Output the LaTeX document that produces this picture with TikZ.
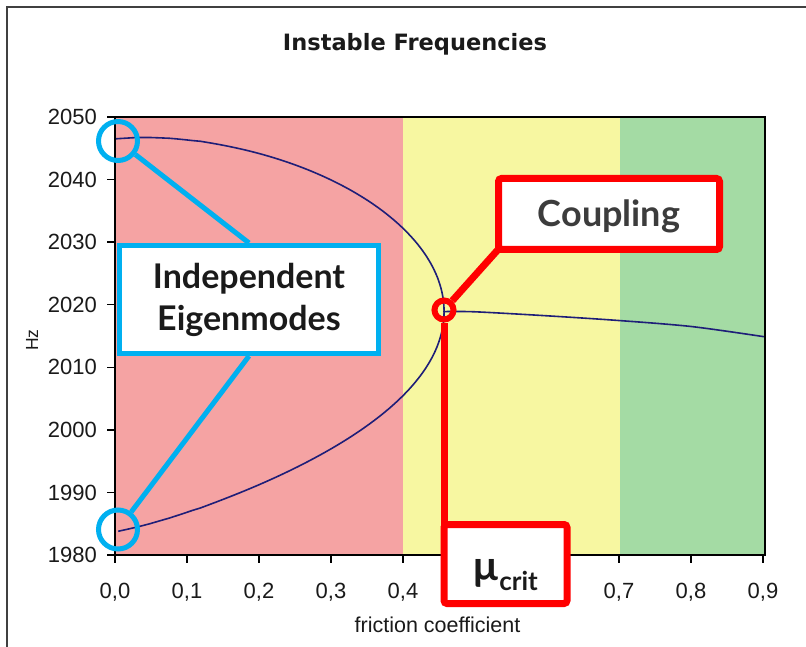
\documentclass[tikz,border=0pt]{standalone}
\usepackage{fontspec}
\setmainfont{Liberation Sans}
\newfontfamily\titlefont{DejaVu Sans}
\newfontfamily\callfont{Lato}
\definecolor{zred}{HTML}{F5A3A3}
\definecolor{zyellow}{HTML}{F7F7A1}
\definecolor{zgreen}{HTML}{A4DBA4}
\definecolor{cnavy}{HTML}{1E1E78}
\definecolor{cblue}{HTML}{00B0F0}
\definecolor{ctext}{HTML}{1A1A1A}
\definecolor{cgray}{HTML}{3C3C3C}
\begin{document}
\begin{tikzpicture}[x=1pt,y=-1pt,
  declare function={mm(\h)=max(1-\h*\h,0.0001)^(2/3);
                    cc(\h)=35.1+3.8*(1-(1-mm(\h))^2);},
  curve/.style={draw=cnavy,line width=1.6pt,line join=round},
  axisline/.style={draw=black,line width=1.3pt},
  tickmark/.style={draw=black,line width=1.3pt},
  ticklab/.style={font=\fontsize{22}{22}\selectfont,text=ctext,inner sep=0pt},
  bluering/.style={circle,draw=cblue,line width=5pt,minimum size=39pt,inner sep=0pt},
  bluebox/.style={rectangle,draw=cblue,line width=5pt,fill=white,inner sep=0pt,
    align=center,text=ctext,font=\callfont\bfseries\fontsize{34}{42}\selectfont},
  blueline/.style={draw=cblue,line width=5pt},
  redring/.style={circle,draw=red,line width=6pt,minimum size=19pt,inner sep=0pt},
  redbox/.style={rectangle,draw=red,line width=7pt,fill=white,inner sep=0pt,rounded corners=3pt},
  redline/.style={draw=red,line width=7pt}]
\useasboundingbox (0,0) rectangle (806,647);
\fill[white] (0,0) rectangle (806,647);
% outer chart frame
\draw[draw=black!75,line width=2pt] (7,647) -- (7,7) -- (806,7);
% title
\node[anchor=base,inner sep=0pt,text=ctext,font=\titlefont\bfseries\fontsize{22.5}{24}\selectfont] (title) at (415,51) {Instable Frequencies};
% zones
\fill[zred] (115,117) rectangle (403,555);
\fill[zyellow] (403,117) rectangle (620,555);
\fill[zgreen] (620,117) rectangle (765,555);
% curves
\draw[curve] plot[variable=\h,domain=1:-1,samples=241]
  ({115+329.04*mm(\h)},{555-6.2571*(cc(\h)+31.4*\h)});
\draw[curve] plot[smooth,tension=0.5] coordinates
  {(444,311.6) (475,311.8) (547,315.8) (620,320.6) (692,326.6) (764,336.7)};
% plot frame
\draw[axisline] (115,117) rectangle (765,555);
% y ticks
\foreach \k/\v in {0/1980,1/1990,2/2000,3/2010,4/2020,5/2030,6/2040,7/2050}{
  \draw[tickmark] (107,{555-62.571*\k}) -- (115,{555-62.571*\k});
  \node[ticklab,anchor=east] (ylab\k) at (97,{555-62.571*\k}) {\v};
}
% x ticks (labels 0,5 and 0,6 are hidden by the callout box)
\foreach \k in {0,...,9}{
  \draw[tickmark] ({115+72*\k},555) -- ({115+72*\k},563);
}
\foreach \k in {0,1,2,3,4,7,8,9}{
  \node[ticklab,anchor=base] (xlab\k) at ({115+72*\k},598) {0,\k};
}
\node[anchor=base,inner sep=0pt,text=ctext,font=\fontsize{21.5}{22}\selectfont] (xtitle) at (437.5,632) {friction coefficient};
\node[rotate=90,inner sep=0pt,text=ctext,font=\fontsize{17.5}{18}\selectfont] (ytitle) at (32,340) {Hz};
% blue callout
\node[bluering] (e1) at (118,141) {};
\node[bluering] (e2) at (118,529.5) {};
\node[bluebox,minimum width=259pt,minimum height=108pt] (ind) at (249,299.5) {Independent\\Eigenmodes};
\draw[blueline] (e1) -- (ind.north);
\draw[blueline] (e2) -- (ind.south);
% red callouts
\node[redring] (cp) at (444,310) {};
\node[redbox,minimum width=221pt,minimum height=71pt,text height=26pt,text depth=0pt,
  text=cgray,font=\callfont\bfseries\fontsize{36}{37}\selectfont] (coup) at (609,214) {Coupling};
\node[redbox,minimum width=123pt,text height=55.5pt,text depth=23.5pt,
  text=ctext,font=\callfont\bfseries] (muc) at (505.5,564)
  {{\fontsize{41}{42}\selectfont μ}\kern1.5pt\raisebox{-10pt}{\fontsize{26}{27}\selectfont crit}};
\draw[redline,shorten >=-4pt] (cp) -- (coup.south west);
\draw[redline,shorten >=-5pt] (cp.south) -- (cp.south |- muc.north);
\end{tikzpicture}
\end{document}
